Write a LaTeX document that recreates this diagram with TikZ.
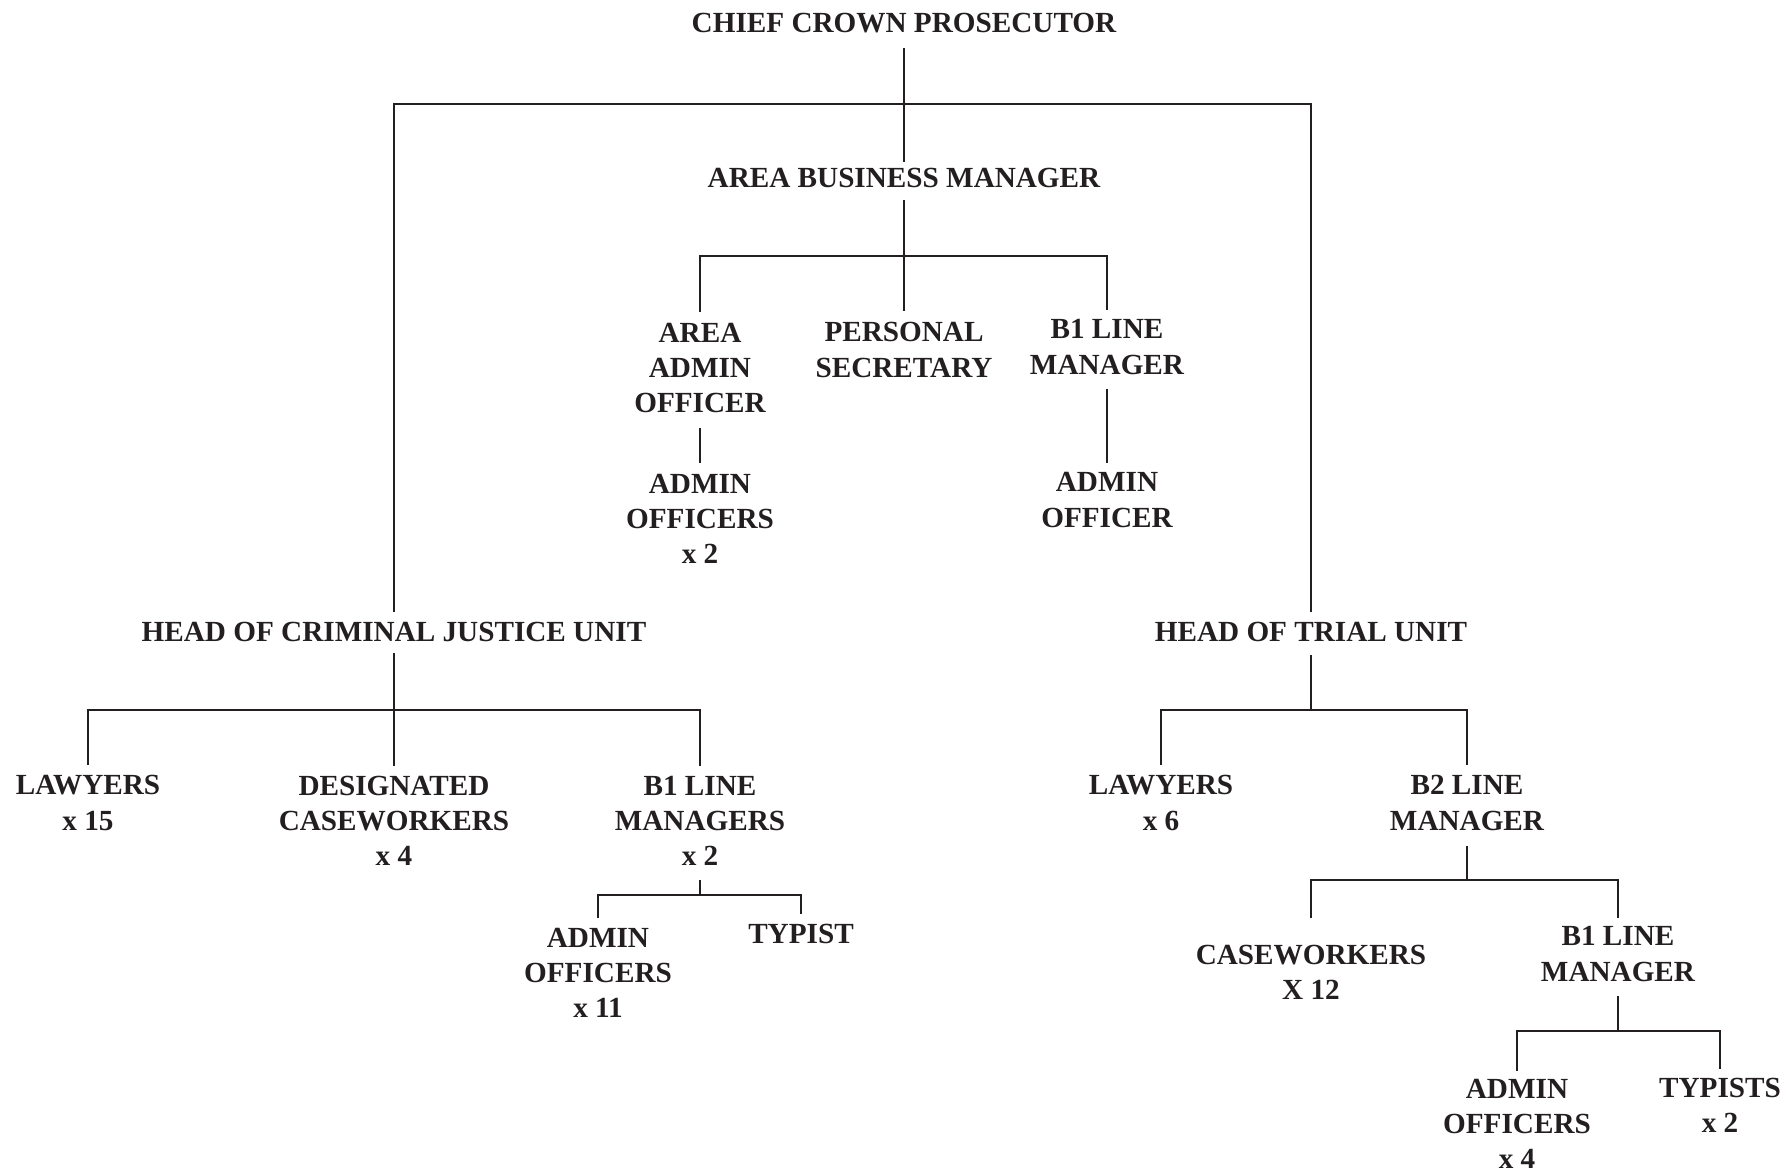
\documentclass[tikz,border=0pt]{standalone}
\usepackage{fontspec}
\setmainfont{Liberation Serif}
\usepackage{xcolor}
\definecolor{ink}{RGB}{35,31,32}

\begin{document}
\begin{tikzpicture}[x=0.5pt,y=-0.5pt,
  role/.style={align=center, inner sep=0pt, text=ink,
    font=\bfseries\fontsize{14.6}{17.65}\selectfont},
  link/.style={draw=ink, line width=1.1pt}]
  \useasboundingbox (0,0) rectangle (1785,1172);
  % top of the chart
  \node[role] (ccp) at (904,23) {CHIEF CROWN PROSECUTOR};
  \node[role] (abm) at (904,178) {AREA BUSINESS MANAGER};
  \node[role] (hcju) at (394,632) {HEAD OF CRIMINAL JUSTICE UNIT};
  \node[role] (htu) at (1311,632) {HEAD OF TRIAL UNIT};
  % business manager's staff
  \node[role] (aao) at (700,368) {AREA\\ADMIN\\OFFICER};
  \node[role] (psec) at (904,350) {PERSONAL\\SECRETARY};
  \node[role] (bone) at (1107,347) {B1 LINE\\MANAGER};
  \node[role] (aos) at (700,519) {ADMIN\\OFFICERS\\x 2};
  \node[role] (aoff) at (1107,500) {ADMIN\\OFFICER};
  % criminal justice unit
  \node[role] (lawl) at (88,803) {LAWYERS\\x 15};
  \node[role] (dcw) at (394,821) {DESIGNATED\\CASEWORKERS\\x 4};
  \node[role] (bones) at (700,821) {B1 LINE\\MANAGERS\\x 2};
  \node[role] (aoe) at (598,973) {ADMIN\\OFFICERS\\x 11};
  \node[role] (typ) at (801,934) {TYPIST};
  % trial unit
  \node[role] (lawr) at (1161,803) {LAWYERS\\x 6};
  \node[role] (btwo) at (1467,803) {B2 LINE\\MANAGER};
  \node[role] (cw) at (1311,972) {CASEWORKERS\\X 12};
  \node[role] (bonem) at (1618,954) {B1 LINE\\MANAGER};
  \node[role] (aof) at (1517,1124) {ADMIN\\OFFICERS\\x 4};
  \node[role] (typs) at (1720,1105) {TYPISTS\\x 2};

  % connectors
  \coordinate (topbar) at (904,104);
  \draw[link] ([yshift=-7.5pt]ccp.south) -- ([yshift=3pt]abm.north);
  \draw[link] ([yshift=5pt]hcju.north) |- (topbar) -| ([yshift=5pt]htu.north);

  \coordinate (abmbar) at (904,256);
  \draw[link] ([yshift=-6pt]abm.south) -- ([yshift=5.5pt]psec.north);
  \draw[link] ([yshift=5.5pt]aao.north) |- (abmbar) -| ([yshift=4.5pt]bone.north);
  \draw[link] ([yshift=-7.5pt]aao.south) -- ([yshift=5.5pt]aos.north);
  \draw[link] ([yshift=-7pt]bone.south) -- ([yshift=4.5pt]aoff.north);

  \coordinate (cjbar) at (394,710);
  \draw[link] ([yshift=-5.5pt]hcju.south) -- ([yshift=5pt]dcw.north);
  \draw[link] ([yshift=5pt]lawl.north) |- (cjbar) -| ([yshift=5pt]bones.north);
  \coordinate (bsbar) at (700,895);
  \draw[link] ([yshift=-7pt]bones.south) -- (bsbar);
  \draw[link] ([yshift=5pt]aoe.north) |- (bsbar) -| ([yshift=5pt]typ.north);

  \coordinate (trbar) at (1311,710);
  \draw[link] ([yshift=-6.5pt]htu.south) -- (trbar);
  \draw[link] ([yshift=5pt]lawr.north) |- (trbar) -| ([yshift=5pt]btwo.north);
  \coordinate (btbar) at (1467,880);
  \coordinate (btend) at ([yshift=4pt]bonem.north);
  \draw[link] ([yshift=-7.5pt]btwo.south) -- (btbar);
  \draw[link] (cw |- btend) |- (btbar) -| (btend);
  \coordinate (bmbar) at (1618,1031);
  \draw[link] ([yshift=-7pt]bonem.south) -- (bmbar);
  \draw[link] ([yshift=4pt]aof.north) |- (bmbar) -| ([yshift=4pt]typs.north);
\end{tikzpicture}
\end{document}
